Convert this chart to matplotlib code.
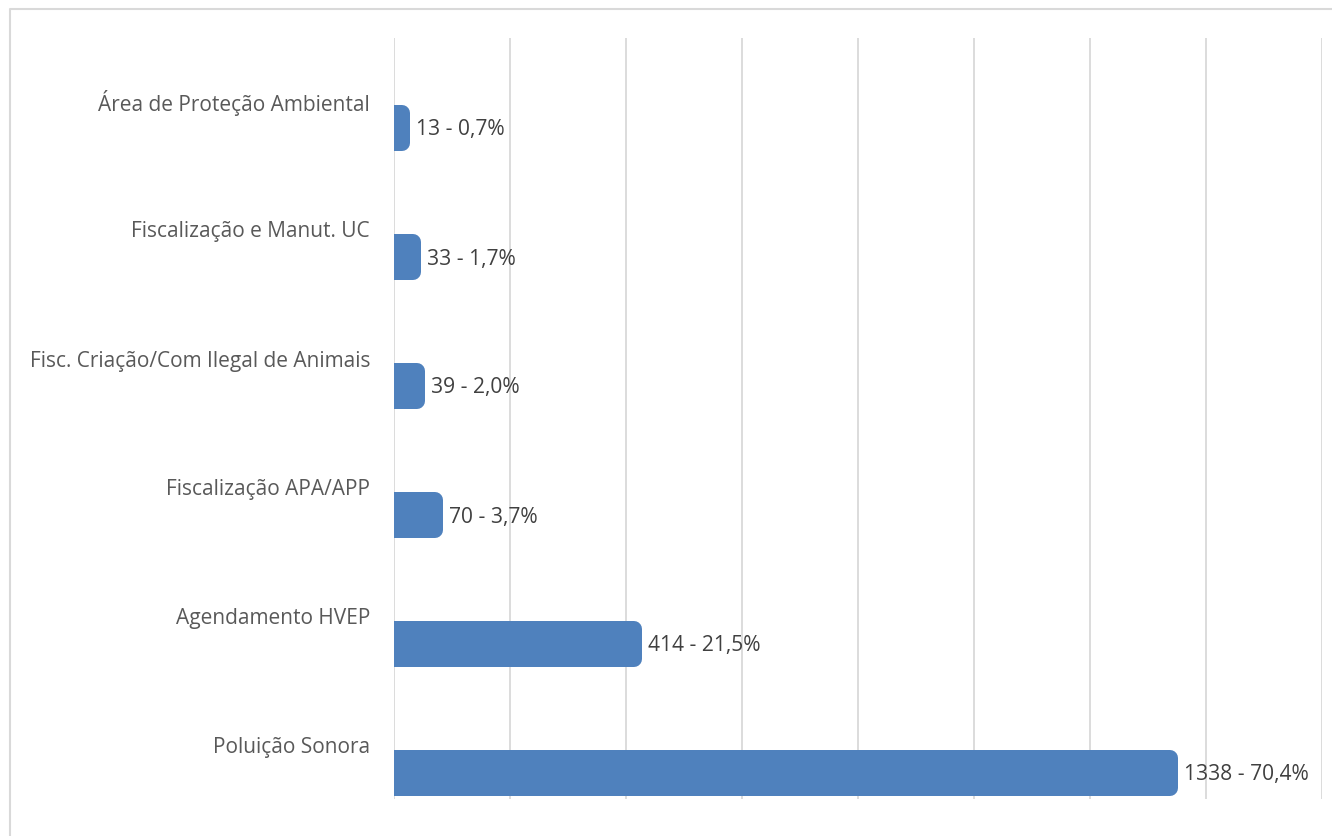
import matplotlib
matplotlib.use("Agg")
import matplotlib.pyplot as plt
from matplotlib.patches import Rectangle

categories = [
    "Área de Proteção Ambiental",
    "Fiscalização e Manut. UC",
    "Fisc. Criação/Com Ilegal de Animais",
    "Fiscalização APA/APP",
    "Agendamento HVEP",
    "Poluição Sonora",
]
counts = [13, 33, 39, 70, 414, 1338]
percent_labels = ["0,7%", "1,7%", "2,0%", "3,7%", "21,5%", "70,4%"]

W, H, DPI = 1332, 837, 100
fig = plt.figure(figsize=(W / DPI, H / DPI), dpi=DPI)
fig.patch.set_facecolor("white")

# outer chart frame (open on right and bottom edges)
frame = plt.Line2D([9.5 / W, 9.5 / W, 1.0], [0.0, 1 - 9.5 / H, 1 - 9.5 / H],
                   transform=fig.transFigure, color="#d9d9d9", lw=1.5)
fig.add_artist(frame)

ax_left, ax_right = 394 / W, 1322 / W
ax_top, ax_bot = 1 - 39 / H, 1 - 800 / H
ax = fig.add_axes([ax_left, ax_bot, ax_right - ax_left, ax_top - ax_bot])

xmax = 1600
ax.set_xlim(0, xmax)
ax.set_ylim(5 + 26 / 129, -90 / 129)
for s in ax.spines.values():
    s.set_visible(False)
ax.set_xticks(range(0, xmax + 1, 200))
ax.set_yticks([])
ax.tick_params(axis="x", length=0, labelbottom=False)
ax.grid(axis="x", color="#d9d9d9", lw=1.3)
ax.set_axisbelow(True)

bar_color = "#4f81bd"
ax_w_px = (ax_right - ax_left) * W
px_per_unit = ax_w_px / xmax
stroke_px = 16                      # thick round-joined edge gives rounded ends
stroke_pt = stroke_px * 72 / DPI
bar_h = (46 - stroke_px) / 129

clip = Rectangle((0, -2), xmax, 10, transform=ax.transData)

for i, (cat, v, p) in enumerate(zip(categories, counts, percent_labels)):
    bar = Rectangle((0, i - bar_h / 2), v, bar_h, fc=bar_color, ec=bar_color,
                    lw=stroke_pt, joinstyle="round", zorder=3)
    ax.add_patch(bar)
    bar.set_clip_path(clip)
    ax.text(v + (stroke_px / 2 + 6) / px_per_unit, i + 1 / 129,
            f"{v} - {p}", va="center", ha="left",
            fontsize=15.1, color="#404040", family="Open Sans", zorder=4)
    ax.text(-24 / ax_w_px, i - 26 / 129, cat, transform=ax.get_yaxis_transform(),
            va="center", ha="right", fontsize=15.0, color="#595959",
            family="Open Sans")

fig.savefig("out.png", dpi=DPI, facecolor="white")
